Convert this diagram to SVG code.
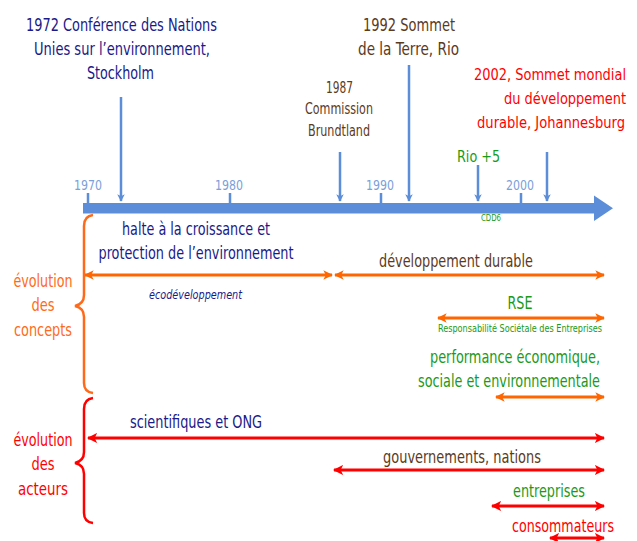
<svg xmlns="http://www.w3.org/2000/svg" width="637" height="541" viewBox="0 0 637 541">
<style>
text{font-family:"DejaVu Sans Condensed","DejaVu Sans",sans-serif;font-size:17px}
.nv{fill:#1a1a8a}.br{fill:#5c3a1c}.rd{fill:#ff0000}.gr{fill:#1a9a1a}.or{fill:#ff6a1a}.yr{fill:#7ba0da;font-size:14px}
.m{text-anchor:middle}.e{text-anchor:end}
.lo{stroke:#ff6600;stroke-width:3;fill:none;marker-start:url(#ho);marker-end:url(#ho)}
.lr{stroke:#ff0000;stroke-width:3.2;fill:none;marker-start:url(#hr);marker-end:url(#hr)}
.lb{stroke:#5b8dd9;stroke-width:2.5;fill:none;marker-end:url(#hb)}
</style>
<defs>
<marker id="ho" viewBox="0 0 10 10" refX="9" refY="5" markerWidth="3.2" markerHeight="3.2" orient="auto-start-reverse"><path d="M0,0 L10,5 L0,10 L2.5,5 z" fill="#ff6600"/></marker>
<marker id="hr" viewBox="0 0 10 10" refX="9" refY="5" markerWidth="3.2" markerHeight="3.2" orient="auto-start-reverse"><path d="M0,0 L10,5 L0,10 L2.5,5 z" fill="#ff0000"/></marker>
<marker id="hb" viewBox="0 0 10 10" refX="9" refY="5" markerWidth="3" markerHeight="3" orient="auto"><path d="M0,0 L10,5 L0,10 L2.5,5 z" fill="#5b8dd9"/></marker>
</defs>
<rect width="637" height="541" fill="#ffffff"/>

<g id="axis">
<rect x="83" y="203" width="513" height="10.5" fill="#5b8dd9"/>
<path d="M594,195.5 L613,208.2 L594,221 z" fill="#5b8dd9"/>
<g stroke="#5b8dd9" stroke-width="2.5">
<line x1="88" y1="193" x2="88" y2="204"/>
<line x1="230" y1="193" x2="230" y2="204"/>
<line x1="381" y1="193" x2="381" y2="204"/>
<line x1="521" y1="193" x2="521" y2="204"/>
</g>
<text class="yr m" x="88" y="190" textLength="28" lengthAdjust="spacingAndGlyphs">1970</text>
<text class="yr m" x="229" y="190" textLength="28" lengthAdjust="spacingAndGlyphs">1980</text>
<text class="yr m" x="380" y="190" textLength="28" lengthAdjust="spacingAndGlyphs">1990</text>
<text class="yr m" x="520" y="190" textLength="28" lengthAdjust="spacingAndGlyphs">2000</text>
</g>

<g id="connectors">
<line class="lb" x1="121" y1="97" x2="121" y2="201"/>
<line class="lb" x1="340" y1="152" x2="340" y2="201"/>
<line class="lb" x1="409" y1="65" x2="409" y2="201"/>
<line class="lb" x1="478" y1="165" x2="478" y2="201"/>
<line class="lb" x1="547" y1="152" x2="547" y2="201"/>
<line class="lo" x1="85" y1="275" x2="332" y2="275"/>
<line class="lo" x1="335" y1="275" x2="604" y2="275"/>
<line class="lo" x1="438" y1="318" x2="604" y2="318"/>
<line class="lo" x1="496" y1="397" x2="604" y2="397"/>
<line class="lr" x1="88" y1="438" x2="604" y2="438"/>
<line class="lr" x1="334" y1="470" x2="604" y2="470"/>
<line class="lr" x1="492" y1="506" x2="604" y2="506"/>
<line class="lr" x1="550" y1="538" x2="604" y2="538"/>
</g>

<g id="brace-concepts">
<path d="M93,215 Q84,216 84,226 L84,295 Q84,304 75,306 Q84,308 84,317 L84,383 Q84,392 93,393" fill="none" stroke="#ff6a1a" stroke-width="2.5"/>
<text class="or m" x="43" y="287" textLength="59" lengthAdjust="spacingAndGlyphs">évolution</text>
<text class="or m" x="43" y="311" textLength="23" lengthAdjust="spacingAndGlyphs">des</text>
<text class="or m" x="43" y="336" textLength="58" lengthAdjust="spacingAndGlyphs">concepts</text>
</g>
<g id="brace-acteurs">
<path d="M93,398 Q84,399 84,409 L84,452 Q84,461 75,463 Q84,465 84,474 L84,513 Q84,522 93,523" fill="none" stroke="#ff0000" stroke-width="2.5"/>
<text class="rd m" x="43" y="446" textLength="59" lengthAdjust="spacingAndGlyphs">évolution</text>
<text class="rd m" x="43" y="470" textLength="23" lengthAdjust="spacingAndGlyphs">des</text>
<text class="rd m" x="43" y="495" textLength="50" lengthAdjust="spacingAndGlyphs">acteurs</text>
</g>

<g id="stockholm">
<text class="nv m" x="121.5" y="31" textLength="191" lengthAdjust="spacingAndGlyphs">1972 Conférence des Nations</text>
<text class="nv m" x="122" y="55" textLength="176" lengthAdjust="spacingAndGlyphs">Unies sur l’environnement,</text>
<text class="nv m" x="120.5" y="79" textLength="67" lengthAdjust="spacingAndGlyphs">Stockholm</text>
</g>
<g id="rio">
<text class="br m" x="409" y="31" textLength="92" lengthAdjust="spacingAndGlyphs">1992 Sommet</text>
<text class="br m" x="408.5" y="55" textLength="101" lengthAdjust="spacingAndGlyphs">de la Terre, Rio</text>
</g>
<g id="brundtland">
<text class="br m" x="339.5" y="93" style="font-size:15px" textLength="27" lengthAdjust="spacingAndGlyphs">1987</text>
<text class="br m" x="339" y="114" style="font-size:15px" textLength="68" lengthAdjust="spacingAndGlyphs">Commission</text>
<text class="br m" x="339" y="136" style="font-size:15px" textLength="62" lengthAdjust="spacingAndGlyphs">Brundtland</text>
</g>
<g id="johannesburg" transform="translate(626,0) scale(0.75,1)">
<text class="rd e" x="0" y="80" style="font-size:16px" textLength="202.7" lengthAdjust="spacingAndGlyphs">2002, Sommet mondial</text>
<text class="rd e" x="0" y="104" style="font-size:16px" textLength="162.7" lengthAdjust="spacingAndGlyphs">du développement</text>
<text class="rd e" x="-1.3" y="128" style="font-size:16px" textLength="197.3" lengthAdjust="spacingAndGlyphs">durable, Johannesburg</text>
</g>
<g id="rio5">
<text class="gr m" x="478.5" y="162" style="font-size:16px" textLength="43" lengthAdjust="spacingAndGlyphs">Rio +5</text>
<text class="gr m" x="491" y="221" style="font-size:8px" textLength="20" lengthAdjust="spacingAndGlyphs">CDD6</text>
</g>
<g id="halte">
<text class="nv m" x="196" y="235" textLength="148" lengthAdjust="spacingAndGlyphs">halte à la croissance et</text>
<text class="nv m" x="196" y="259" textLength="195" lengthAdjust="spacingAndGlyphs">protection de l’environnement</text>
<text class="nv m" x="195.5" y="299" style="font-size:12px;font-style:italic" textLength="93" lengthAdjust="spacingAndGlyphs">écodéveloppement</text>
</g>
<g id="dd">
<text class="br m" x="456" y="267" textLength="154" lengthAdjust="spacingAndGlyphs">développement durable</text>
</g>
<g id="rse">
<text class="gr m" x="520" y="309" textLength="25" lengthAdjust="spacingAndGlyphs">RSE</text>
<text class="gr m" x="520" y="332" style="font-size:10px" textLength="164" lengthAdjust="spacingAndGlyphs">Responsabilité Sociétale des Entreprises</text>
</g>
<g id="performance">
<text class="gr" x="430" y="363" textLength="170" lengthAdjust="spacingAndGlyphs">performance économique,</text>
<text class="gr" x="418" y="387" textLength="182" lengthAdjust="spacingAndGlyphs">sociale et environnementale</text>
</g>
<g id="scientifiques">
<text class="nv m" x="196" y="428" textLength="132" lengthAdjust="spacingAndGlyphs">scientifiques et ONG</text>
</g>
<g id="gouvernements">
<text class="br m" x="462" y="463" textLength="158" lengthAdjust="spacingAndGlyphs">gouvernements, nations</text>
</g>
<g id="entreprises">
<text class="gr m" x="549" y="497" textLength="72" lengthAdjust="spacingAndGlyphs">entreprises</text>
</g>
<g id="consommateurs">
<text class="rd m" x="563" y="532" textLength="102" lengthAdjust="spacingAndGlyphs">consommateurs</text>
</g>
</svg>
